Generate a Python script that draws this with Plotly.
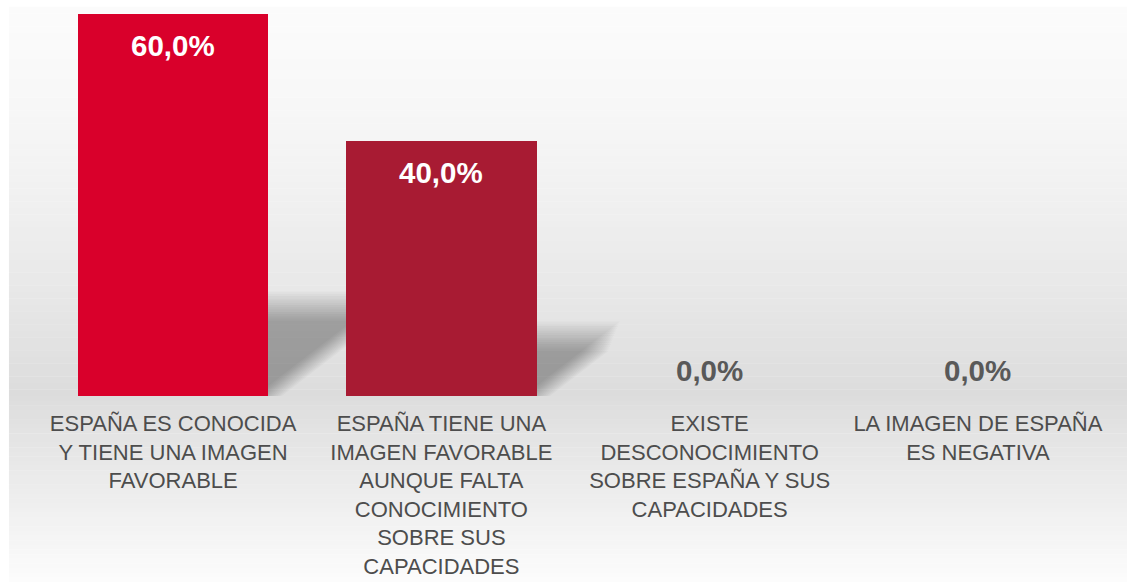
import plotly.graph_objects as go

# ---- data ----
categories = [
    "ESPAÑA ES CONOCIDA<br>Y TIENE UNA IMAGEN<br>FAVORABLE",
    "ESPAÑA TIENE UNA<br>IMAGEN FAVORABLE<br>AUNQUE FALTA<br>CONOCIMIENTO<br>SOBRE SUS<br>CAPACIDADES",
    "EXISTE<br>DESCONOCIMIENTO<br>SOBRE ESPAÑA Y SUS<br>CAPACIDADES",
    "LA IMAGEN DE ESPAÑA<br>ES NEGATIVA",
]
values = [60.0, 40.0, 0.0, 0.0]
bar_colors = ["#D9002B", "#A81B33", "#A81B33", "#A81B33"]

FONT = "Liberation Sans, Arial, sans-serif"
BAR_W = 0.71

fig = go.Figure()
fig.add_trace(go.Bar(
    x=list(range(len(categories))),
    y=values,
    marker=dict(color=bar_colors, line=dict(width=0)),
    width=BAR_W,
    hoverinfo="skip",
))

shapes = []

# background gradient panel (paper coords), light -> grey at baseline -> light
top_p, base_p, bot_p = 1.018, 0.0, -0.487
x0p, x1p = -0.028, 1.02
n_up, n_dn = 60, 40
for k in range(n_up):
    ya = base_p + (top_p - base_p) * k / n_up
    yb = base_p + (top_p - base_p) * (k + 1) / n_up
    t = 1 - (k + 0.5) / n_up  # 0 at top, 1 at baseline
    c = int(round(251 - 31 * t ** 1.5))
    shapes.append(dict(type="rect", xref="paper", yref="paper", x0=x0p, x1=x1p,
                       y0=ya, y1=yb + 0.001, fillcolor=f"rgb({c},{c},{c})",
                       line=dict(width=0), layer="below"))
for k in range(n_dn):
    ya = base_p - (base_p - bot_p) * (k + 1) / n_dn
    yb = base_p - (base_p - bot_p) * k / n_dn
    t = (k + 0.5) / n_dn  # 0 at baseline, 1 at bottom
    c = int(round(221 + 31 * t))
    shapes.append(dict(type="rect", xref="paper", yref="paper", x0=x0p, x1=x1p,
                       y0=ya - 0.001, y1=yb, fillcolor=f"rgb({c},{c},{c})",
                       line=dict(width=0), layer="below"))

# soft perspective shadows behind bars (derived from values)
N_LAY = 14
for i, v in enumerate(values):
    if v <= 0:
        continue
    hs = 0.235 * v
    dx = hs * 0.0309
    bx0, bx1 = i - BAR_W / 2, i + BAR_W / 2
    for k in range(N_LAY):
        f = (k - (N_LAY - 1) / 2) / ((N_LAY - 1) / 2)  # -1..1
        e = f * 2.3
        ox = -f * 0.05
        h = hs + e
        d = dx * h / hs
        path = (f"M {bx0},0 L {bx1 + ox},0 L {bx1 + ox + d},{h} "
                f"L {bx0 + d},{h} Z")
        shapes.append(dict(type="path", xref="x", yref="y", path=path,
                           fillcolor="rgba(0,0,0,0.023)", line=dict(width=0),
                           layer="below"))

annotations = []
for i, v in enumerate(values):
    txt = f"{v:.1f}".replace(".", ",") + "%"
    if v > 0:
        annotations.append(dict(x=i, y=v, xref="x", yref="y", text=f"<b>{txt}</b>",
                                showarrow=False, yshift=-31, yanchor="middle",
                                font=dict(family=FONT, size=29.5, color="white")))
    else:
        annotations.append(dict(x=i, y=v, xref="x", yref="y", text=f"<b>{txt}</b>",
                                showarrow=False, yshift=26, yanchor="middle",
                                font=dict(family=FONT, size=29.5, color="#595959")))

fig.update_layout(
    width=1127, height=582,
    margin=dict(l=39, r=15, t=14, b=186, pad=0),
    paper_bgcolor="white",
    plot_bgcolor="rgba(0,0,0,0)",
    showlegend=False,
    shapes=shapes,
    annotations=annotations,
    bargap=0,
    xaxis=dict(
        tickmode="array",
        tickvals=list(range(len(categories))),
        ticktext=categories,
        range=[-0.5, len(categories) - 0.5],
        showgrid=False, zeroline=False, showline=False,
        ticks="", ticklabelstandoff=12, automargin=False,
        tickfont=dict(family=FONT, size=22, color="#4D4D4D"),
    ),
    yaxis=dict(range=[0, 60], visible=False, showgrid=False, zeroline=False,
               automargin=False),
)

fig.write_html("out.html", config={"displayModeBar": False, "responsive": False},
               post_script="document.body.style.margin='0';document.body.style.overflow='hidden';")
